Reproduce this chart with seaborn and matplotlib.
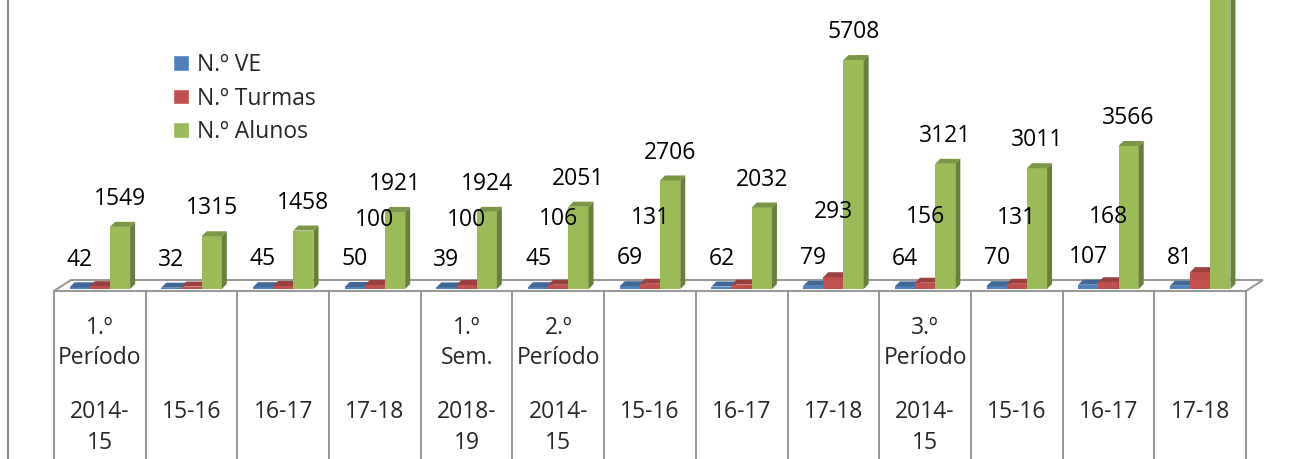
import numpy as np
import pandas as pd
import seaborn as sns
import matplotlib.pyplot as plt
import matplotlib.colors as mcolors
from matplotlib import transforms
from matplotlib.patches import Polygon
from matplotlib.lines import Line2D

# table labels under the bars
periods = ["1.º\nPeríodo", "", "", "", "1.º\nSem.", "2.º\nPeríodo", "", "", "",
           "3.º\nPeríodo", "", "", ""]
years = ["2014-\n15", "15-16", "16-17", "17-18", "2018-\n19", "2014-\n15", "15-16",
         "16-17", "17-18", "2014-\n15", "15-16", "16-17", "17-18"]

series = ["N.º VE", "N.º Turmas", "N.º Alunos"]
n_ve = [42, 32, 45, 50, 39, 45, 69, 62, 79, 64, 70, 107, 81]
n_turmas = [70, 60, 75, 100, 100, 106, 131, 110, 293, 156, 131, 168, 420]
n_alunos = [1549, 1315, 1458, 1921, 1924, 2051, 2706, 2032, 5708, 3121, 3011, 3566, 7600]
# which "Turmas" labels are visible in the original
turmas_label = [False, False, False, True, True, True, True, False, True, True, True, True, False]

colors = ["#4F81BD", "#C0504D", "#9BBB59"]

sns.set_theme(style='white')
plt.rcParams['font.family'] = ['Open Sans', 'DejaVu Sans']
FS = 16.5

slots = [str(i) for i in range(len(years))]
df = pd.DataFrame({
    'slot': slots * 3,
    'serie': np.repeat(series, len(slots)),
    'valor': n_ve + n_turmas + n_alunos,
})

W, H = 1306, 459
fig = plt.figure(figsize=(W / 100, H / 100), dpi=100)
ax = fig.add_axes([54 / W, 1 - 289 / H, 1192 / W, 289 / H])

sns.barplot(data=df, x='slot', y='valor', hue='serie', order=slots,
            hue_order=series, palette=colors, width=0.66, gap=0,
            saturation=1, ax=ax, legend=True)

ax.set_xlim(-0.5, len(slots) - 0.5)
ax.set_ylim(0, 7205)
ax.set_xticks([])
ax.set_yticks([])
ax.set_xlabel('')
ax.set_ylabel('')
for s in ax.spines.values():
    s.set_visible(False)
ax.patch.set_alpha(0)


def shade(c, f):
    return tuple(np.array(mcolors.to_rgb(c)) * f)


# pseudo 3D faces on the bars
to_data = ax.transData.inverted()
off = np.array([5, 5])
for k, bars in enumerate(ax.containers):
    for p in bars:
        x0, w, h = p.get_x(), p.get_width(), p.get_height()
        p.set_zorder(3 + k)
        p.set_edgecolor('none')
        bl, br, tr, tl = ax.transData.transform([(x0, 0), (x0 + w, 0), (x0 + w, h), (x0, h)])
        side = to_data.transform([br, br + off, tr + off, tr])
        top = to_data.transform([tl, tr, tr + off, tl + off])
        ax.add_patch(Polygon(side, fc=shade(colors[k], 0.68), ec='none', zorder=3 + k))
        ax.add_patch(Polygon(top, fc=shade(colors[k], 0.8), ec='none', zorder=3 + k))

# floor
fl, fr = ax.transData.transform([(-0.5, 0), (len(slots) - 0.5, 0)])
fl = fl + np.array([0, -2])
fr = fr + np.array([0, -2])
back = np.array([17, 11])
floor = to_data.transform([fl, fr, fr + back, fl + back])
ax.add_patch(Polygon(floor, fc='white', ec='#9a9a9a', lw=1.5, zorder=1, clip_on=False))

# data labels (labels above the top of the chart are cut off in the original)
ymax = ax.get_ylim()[1]
for k, (vals, dy) in enumerate([(n_ve, 20), (n_turmas, 47), (n_alunos, 20)]):
    for i, p in enumerate(ax.containers[k]):
        if k == 1 and not turmas_label[i]:
            continue
        if p.get_height() > ymax:
            continue
        ax.annotate(str(vals[i]), xy=(p.get_x() + p.get_width() / 2, p.get_height()),
                    xytext=(0, dy), textcoords='offset points', ha='center',
                    va='center', fontsize=FS, color='black', zorder=10,
                    annotation_clip=False)

# table under the chart
trans = transforms.blended_transform_factory(ax.transData, fig.transFigure)
for i in range(len(slots) + 1):
    ax.plot([i - 0.5, i - 0.5], [1 - 291 / H, 0], transform=trans, color='#8c8c8c',
            lw=1.3, clip_on=False)
for i in range(len(slots)):
    for j, line in enumerate(periods[i].split('\n')):
        if line:
            ax.text(i, 1 - (328 + 30 * j) / H, line, transform=trans, ha='center',
                    va='center', fontsize=FS)
    for j, line in enumerate(years[i].split('\n')):
        ax.text(i, 1 - (412 + 31 * j) / H, line, transform=trans, ha='center',
                va='center', fontsize=FS)

fig.add_artist(Line2D([8 / W, 8 / W], [0, 1], color='#8c8c8c', lw=1.5))

leg = ax.legend(loc='upper left', bbox_to_anchor=(173 / W, 1 - 53 / H),
                bbox_transform=fig.transFigure, frameon=False, fontsize=FS,
                handlelength=0.68, handleheight=0.68, handletextpad=0.35,
                labelspacing=0.42, borderpad=0, borderaxespad=0)

fig.savefig('out.png', dpi=100)
